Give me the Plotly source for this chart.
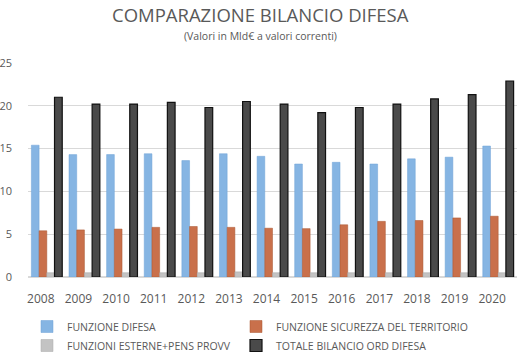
import plotly.graph_objects as go

anni = ["2008", "2009", "2010", "2011", "2012", "2013", "2014", "2015", "2016", "2017", "2018", "2019", "2020"]
funzione_difesa = [15.4, 14.3, 14.3, 14.4, 13.6, 14.4, 14.1, 13.2, 13.4, 13.2, 13.8, 14.0, 15.3]
sicurezza_territorio = [5.4, 5.5, 5.6, 5.8, 5.9, 5.8, 5.7, 5.65, 6.1, 6.5, 6.6, 6.9, 7.1]
funzioni_esterne = [0.5, 0.5, 0.5, 0.5, 0.5, 0.6, 0.5, 0.5, 0.5, 0.5, 0.5, 0.5, 0.5]
totale_bilancio = [21.0, 20.2, 20.2, 20.4, 19.8, 20.5, 20.2, 19.2, 19.8, 20.2, 20.8, 21.3, 22.9]

W, H = 529, 363
L, R, T, B = 28, 12, 63, 86
PH = H - T - B
PW = W - L - R


def py(pix):
    return (H - B - pix) / PH


def px(pix):
    return (pix - L) / PW


fig = go.Figure()
fig.add_bar(x=anni, y=funzione_difesa, name="FUNZIONE DIFESA", legend="legend",
            marker=dict(color="#86B5E3", line=dict(color="#6FA3D6", width=0.5)))
fig.add_bar(x=anni, y=sicurezza_territorio, name="FUNZIONE SICUREZZA DEL TERRITORIO", legend="legend2",
            marker=dict(color="#C9704B", line=dict(color="#A9552F", width=0.5)))
fig.add_bar(x=anni, y=funzioni_esterne, name="FUNZIONI ESTERNE+PENS PROVV", legend="legend",
            marker=dict(color="#C3C3C3", line=dict(color="#A8A8A8", width=0.5)))
fig.add_bar(x=anni, y=totale_bilancio, name="TOTALE BILANCIO ORD DIFESA", legend="legend2",
            marker=dict(color="#4A4A4A", line=dict(color="#111111", width=1.2)))

font_c = "#595959"
leg_common = dict(orientation="v", xanchor="left", yanchor="top", y=py(312),
                  font=dict(size=10.5, color=font_c), itemwidth=30, tracegroupgap=0,
                  traceorder="normal", bgcolor="rgba(0,0,0,0)")
fig.update_layout(
    width=W, height=H,
    margin=dict(l=L, r=R, t=T, b=B, autoexpand=False),
    paper_bgcolor="white", plot_bgcolor="white",
    barmode="group", bargap=0.18, bargroupgap=0.0,
    font=dict(family="Open Sans", color=font_c),
    showlegend=True,
    legend=dict(x=px(27), **leg_common),
    legend2=dict(x=px(236), **leg_common),
    xaxis=dict(type="category", showgrid=False, showline=False, zeroline=False,
               tickfont=dict(size=12, color=font_c), ticks="", ticklabelstandoff=13,
               ticklabelshift=-6, range=[-0.5, 12.5]),
    yaxis=dict(range=[0, 25], dtick=5, showgrid=True, gridcolor="#D9D9D9", gridwidth=1,
               zeroline=True, zerolinecolor="#D9D9D9", showline=False,
               tickfont=dict(size=11, color=font_c), ticks="", ticklabelstandoff=15),
    annotations=[
        dict(text="COMPARAZIONE BILANCIO DIFESA", x=px(260), y=py(15), xref="paper", yref="paper",
             xanchor="center", yanchor="middle", showarrow=False,
             font=dict(size=18.5, color=font_c, family="Open Sans")),
        dict(text="(Valori in Mld€ a valori correnti)", x=px(260), y=py(36), xref="paper", yref="paper",
             xanchor="center", yanchor="middle", showarrow=False,
             font=dict(size=10.5, color=font_c, family="Open Sans")),
    ],
)

fig.write_html("out.html", config={"displayModeBar": False},
               post_script="document.body.style.margin='0';document.body.style.padding='0';")
